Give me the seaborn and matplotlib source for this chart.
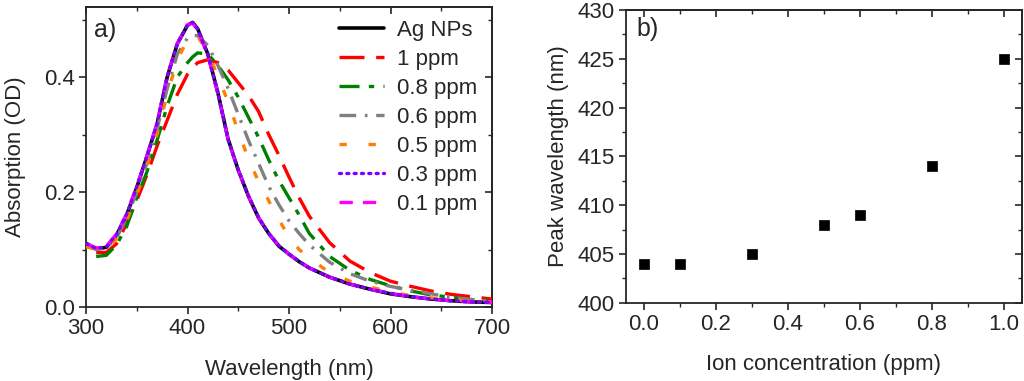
import numpy as np
import matplotlib
matplotlib.use("Agg")
import matplotlib.pyplot as plt
from matplotlib.ticker import MultipleLocator
import seaborn as sns

# ---- data ----
wavelength = [300, 310, 320, 330, 340, 350, 360, 370, 380, 390, 400, 405, 410, 420, 430, 440,
              450, 460, 470, 480, 490, 500, 510, 520, 540, 560, 580, 600, 620, 640, 660, 680, 700]

ag_nps = [0.111, 0.101, 0.104, 0.125, 0.160, 0.208, 0.262, 0.318, 0.400, 0.458, 0.490, 0.495, 0.484,
          0.440, 0.372, 0.292, 0.238, 0.193, 0.155, 0.128, 0.106, 0.092, 0.079, 0.068, 0.052, 0.040,
          0.031, 0.023, 0.018, 0.014, 0.011, 0.009, 0.008]
ppm_1 = [np.nan, 0.095, 0.095, 0.110, 0.145, 0.185, 0.230, 0.280, 0.325, 0.370, 0.405, 0.416, 0.425,
         0.430, 0.425, 0.412, 0.390, 0.368, 0.340, 0.300, 0.264, 0.226, 0.190, 0.158, 0.112, 0.080,
         0.060, 0.045, 0.036, 0.028, 0.022, 0.018, 0.014]
ppm_08 = [np.nan, 0.088, 0.090, 0.108, 0.140, 0.190, 0.235, 0.290, 0.350, 0.400, 0.425, 0.435, 0.442,
          0.440, 0.420, 0.395, 0.365, 0.330, 0.295, 0.256, 0.220, 0.190, 0.160, 0.128, 0.088, 0.064,
          0.048, 0.037, 0.028, 0.021, 0.017, 0.013, 0.011]
ppm_06 = [0.108, 0.100, 0.103, 0.120, 0.155, 0.200, 0.250, 0.310, 0.380, 0.440, 0.468, 0.472, 0.472,
          0.455, 0.420, 0.380, 0.335, 0.290, 0.250, 0.210, 0.178, 0.150, 0.128, 0.108, 0.078, 0.058,
          0.045, 0.036, 0.029, 0.023, 0.017, 0.013, 0.010]
ppm_05 = [0.105, 0.100, 0.100, 0.118, 0.150, 0.195, 0.245, 0.300, 0.370, 0.430, 0.465, 0.472, 0.470,
          0.445, 0.400, 0.357, 0.305, 0.258, 0.218, 0.185, 0.152, 0.122, 0.100, 0.085, 0.060, 0.045,
          0.035, 0.026, 0.020, 0.016, 0.013, 0.010, 0.008]
ppm_03 = [0.110, 0.102, 0.105, 0.126, 0.161, 0.209, 0.262, 0.319, 0.401, 0.458, 0.491, 0.495, 0.483,
          0.439, 0.372, 0.291, 0.239, 0.193, 0.156, 0.128, 0.107, 0.092, 0.079, 0.068, 0.052, 0.040,
          0.031, 0.024, 0.018, 0.014, 0.011, 0.009, 0.008]
ppm_01 = [0.110, 0.103, 0.106, 0.127, 0.162, 0.210, 0.263, 0.320, 0.402, 0.458, 0.491, 0.494, 0.482,
          0.438, 0.371, 0.291, 0.238, 0.193, 0.156, 0.128, 0.107, 0.092, 0.079, 0.068, 0.052, 0.040,
          0.031, 0.024, 0.018, 0.014, 0.011, 0.009, 0.008]

ion_conc = [0.0, 0.1, 0.3, 0.5, 0.6, 0.8, 1.0]
peak_wl = [404, 404, 405, 408, 409, 414, 425]

# label, values, colour, dash pattern (None = solid), zorder
series = [
    ("Ag NPs", ag_nps, "black", None, 2),
    ("1 ppm", ppm_1, "#ff0000", (7.5, 3.5), 3),
    ("0.8 ppm", ppm_08, "#008000", (6, 2.8, 1.6, 2.8), 3),
    ("0.6 ppm", ppm_06, "#808080", (5, 2.6, 0.8, 2.6), 3),
    ("0.5 ppm", ppm_05, "#ff8000", (2.2, 6.5), 3),
    ("0.3 ppm", ppm_03, "#8000ff", (0.6, 1.6), 5),
    ("0.1 ppm", ppm_01, "#ff00ff", (4, 3), 4),
]

sns.set_style("ticks")
plt.rcParams['font.family'] = ['Liberation Sans', 'DejaVu Sans']
plt.rcParams['axes.linewidth'] = 1.3

fig = plt.figure(figsize=(10.24, 3.81), dpi=100)
ax1 = fig.add_axes([0.084, 0.194, 0.3965, 0.788])
ax2 = fig.add_axes([0.611, 0.205, 0.387, 0.769])

# ---- a) spectra ----
for label, vals, col, dash, z in series:
    ls = '-' if dash is None else (0, dash)
    sns.lineplot(x=wavelength, y=vals, ax=ax1, color=col, lw=2.6 if dash is None else 2.4,
                 linestyle=ls, label=label, zorder=z, errorbar=None, sort=False,
                 dash_capstyle='round' if label == "0.3 ppm" else 'butt')

ax1.set_xlim(300, 700)
ax1.set_ylim(0, 0.522)
ax1.xaxis.set_major_locator(MultipleLocator(100))
ax1.xaxis.set_minor_locator(MultipleLocator(50))
ax1.yaxis.set_major_locator(MultipleLocator(0.2))
ax1.yaxis.set_minor_locator(MultipleLocator(0.1))
ax1.set_xlabel("Wavelength (nm)", fontsize=16, labelpad=14)
ax1.set_ylabel("Absorption (OD)", fontsize=16, labelpad=13)
ax1.text(0.02, 0.962, "a)", transform=ax1.transAxes, fontsize=18, va='top', ha='left')
ax1.legend(loc='upper right', bbox_to_anchor=(1.005, 1.012), frameon=False, fontsize=16,
           handlelength=2.0, handletextpad=0.6, labelspacing=0.36, borderpad=0.25)

# ---- b) peak position ----
sns.scatterplot(x=ion_conc, y=peak_wl, ax=ax2, marker='s', s=60, color='black',
                edgecolor='black', linewidth=0.5, zorder=3)
ax2.set_xlim(-0.05, 1.05)
ax2.set_ylim(400, 430)
ax2.xaxis.set_major_locator(MultipleLocator(0.2))
ax2.xaxis.set_minor_locator(MultipleLocator(0.1))
ax2.yaxis.set_major_locator(MultipleLocator(5))
ax2.yaxis.set_minor_locator(MultipleLocator(2.5))
ax2.set_xticklabels([f"{v:.1f}" for v in ax2.get_xticks()])
ax2.set_xlabel("Ion concentration (ppm)", fontsize=16, labelpad=14)
ax2.set_ylabel("Peak wavelength (nm)", fontsize=16, labelpad=6)
ax2.text(0.028, 0.975, "b)", transform=ax2.transAxes, fontsize=18, va='top', ha='left')

# ticks: outward on bottom/left, inward mirrored on top/right
for ax in (ax1, ax2):
    for s in ax.spines.values():
        s.set_visible(True)
        s.set_linewidth(1.3)
    ax.tick_params(which='major', direction='out', length=5, width=1.2, labelsize=16, pad=3)
    ax.tick_params(which='minor', direction='out', length=3, width=1.0)
    top = ax.secondary_xaxis('top')
    top.xaxis.set_major_locator(ax.xaxis.get_major_locator())
    top.xaxis.set_minor_locator(ax.xaxis.get_minor_locator())
    top.tick_params(which='major', direction='in', length=5, width=1.2, labeltop=False)
    top.tick_params(which='minor', direction='in', length=3, width=1.0)
    right = ax.secondary_yaxis('right')
    right.yaxis.set_major_locator(ax.yaxis.get_major_locator())
    right.yaxis.set_minor_locator(ax.yaxis.get_minor_locator())
    right.tick_params(which='major', direction='in', length=5, width=1.2, labelright=False)
    right.tick_params(which='minor', direction='in', length=3, width=1.0)

fig.savefig("out.png", dpi=100)
